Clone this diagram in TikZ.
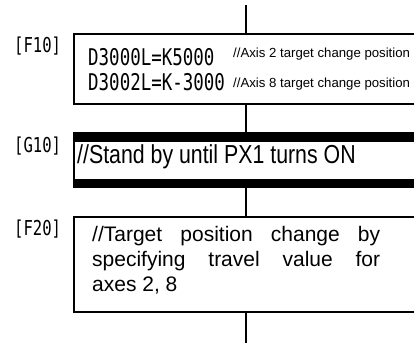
\documentclass[tikz,border=0pt]{standalone}
\usepackage{fontspec}
\setmainfont{Liberation Sans}
\newfontfamily\gothic[FakeStretch=0.76]{DejaVu Sans Mono}
\newfontfamily\narrowsans[FakeStretch=0.82]{Liberation Sans}
\usetikzlibrary{positioning,calc}
\tikzset{
  stepbox/.style={draw, line width=1.6pt, anchor=north west, outer sep=0pt,
                  inner sep=0pt, minimum width=360pt},
  steplabel/.style={font=\gothic\fontsize{20.5}{20.5}\selectfont, anchor=base west, inner sep=0pt},
  code/.style={font=\gothic\fontsize{23}{23}\selectfont, anchor=base west, inner sep=0pt},
  remark/.style={font=\fontsize{13.2}{13.2}\selectfont, anchor=base west, inner sep=0pt},
  comment/.style={font=\fontsize{21}{25}\selectfont, inner sep=0pt},
  liga/.style={line width=2pt},
}
\begin{document}
\begin{tikzpicture}[x=1pt,y=-1pt]
  \useasboundingbox (0,0) rectangle (414,343);
  \clip (0,0) rectangle (414,343);

  % Blocos
  \node[stepbox, minimum height=70pt] (f10) at (74,34) {};
  \node[stepbox, minimum height=54pt, line width=2.4pt] (g10) at (74,133) {};
  \node[stepbox, minimum height=95pt] (f20) at (74,217) {};
  \fill (g10.north west) rectangle ($(g10.north east)+(0,9)$);
  \fill (g10.south west) rectangle ($(g10.south east)+(0,-8)$);

  % Ligacoes
  \coordinate (topo) at (246,5);
  \coordinate (fim) at (246,343);
  \draw[liga] (topo) -- (topo |- f10.north);
  \draw[liga] (topo |- f10.south) -- (topo |- g10.north);
  \draw[liga] (topo |- g10.south) -- (topo |- f20.north);
  \draw[liga] (topo |- f20.south) -- (fim);

  % Rotulos
  \node[steplabel] (lf10) at (14,52) {[F10]};
  \node[steplabel] (lg10) at (14,152) {[G10]};
  \node[steplabel] (lf20) at (14,235) {[F20]};

  % Conteudo
  \node[code] (d1) at (88,65) {D3000L=K5000};
  \node[code] (d2) at (88,90) {D3002L=K-3000};
  \node[remark] (r1) at (233,57.5) {//Axis 2 target change position};
  \node[remark] (r2) at (233,87.5) {//Axis 8 target change position};
  \node[comment, font=\narrowsans\fontsize{26}{26}\selectfont, anchor=base west] (wait) at (77,163.5)
    {//Stand by until PX1 turns ON};
  \node[comment, anchor=north west, text width=288pt, align=justify] (move) at (92,226)
    {//Target position change by\linebreak specifying travel value for\linebreak axes 2, 8};
\end{tikzpicture}
\end{document}
